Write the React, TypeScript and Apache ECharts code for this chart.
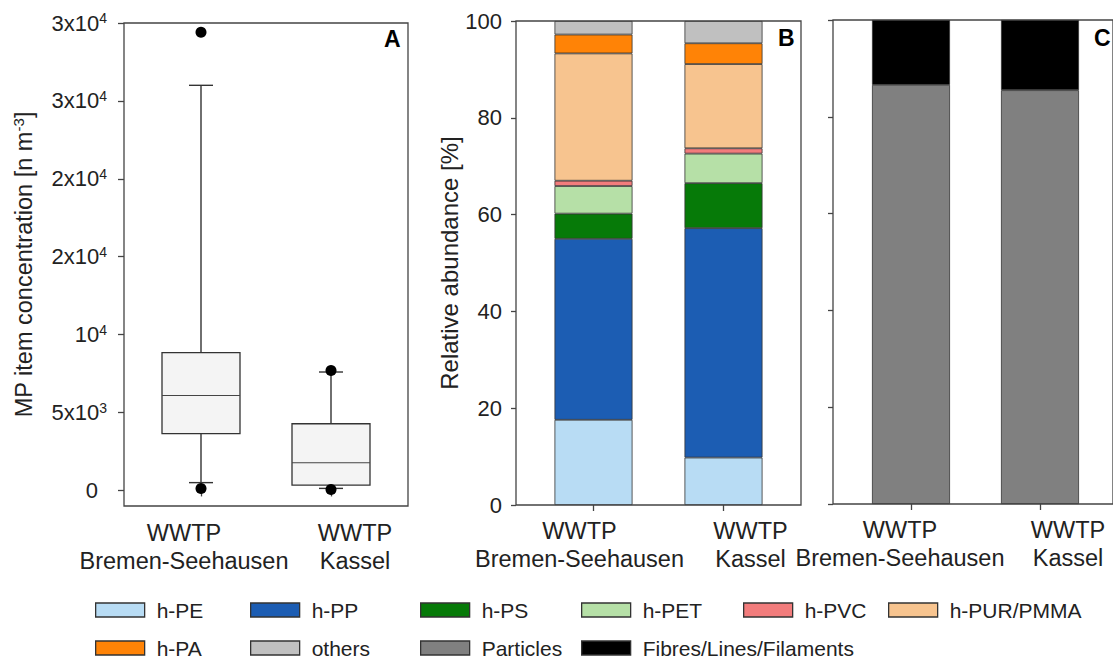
import React, { useEffect, useRef } from "react";
import * as echarts from "echarts";

// ---------- data ----------
const CATEGORIES = ["WWTP\nBremen-Seehausen", "WWTP\nKassel"];

// Panel A: box statistics [min whisker, Q1, median, Q3, max whisker]
const BOX_BREMEN = [500, 3650, 6090, 8850, 26000];
const BOX_KASSEL = [130, 340, 1780, 4280, 7600];
// outliers [category index, value]
const OUTLIERS = [
  [0, 29400],
  [0, 130],
  [1, 7700],
  [1, 60],
];
const A_TICKS = [0, 5000, 10000, 15000, 20000, 25000, 30000];
const A_TICK_LABELS = [
  "{b|0}{p| }",
  "{b|5x10}{s|3}",
  "{b|10}{s|4}",
  "{b|2x10}{s|4}",
  "{b|2x10}{s|4}",
  "{b|3x10}{s|4}",
  "{b|3x10}{s|4}",
];

// Panel B: relative abundance of polymers [%]
const POLYMERS = ["h-PE", "h-PP", "h-PS", "h-PET", "h-PVC", "h-PUR/PMMA", "h-PA", "others"];
const POLY_BREMEN = [17.6, 37.4, 5.2, 5.7, 1.1, 26.3, 3.9, 2.8];
const POLY_KASSEL = [9.8, 47.4, 9.3, 6.1, 1.1, 17.4, 4.3, 4.6];
const POLY_COLORS = ["#b8dcf4", "#1c5db3", "#067a08", "#b6e0a7", "#f27c7c", "#f7c48f", "#ff8306", "#c0c0c0"];

// Panel C: shapes [%]
const SHAPES = ["Particles", "Fibres/Lines/Filaments"];
const SHAPE_BREMEN = [86.6, 13.4];
const SHAPE_KASSEL = [85.5, 14.5];
const SHAPE_COLORS = ["#808080", "#000000"];

const B_TICKS_INTERVAL = 20;

// ---------- styling ----------
const FONT = "Liberation Sans";
const TXT = "#222";
const LINE = "#444";

function catData(shiftL: number, shiftR: number) {
  return [
    { value: CATEGORIES[0], textStyle: { padding: [0, shiftL, 0, 0] } },
    { value: CATEGORIES[1], textStyle: { padding: [0, 0, 0, shiftR] } },
  ];
}

const xLabel = {
  color: TXT,
  fontFamily: FONT,
  fontSize: 23.5,
  lineHeight: 28,
  margin: 12,
  interval: 0,
  hideOverlap: false,
};

const xTick = { show: true, alignWithLabel: true, length: 6, lineStyle: { color: LINE, width: 1.3 } };
const yTick = { show: true, length: 5, lineStyle: { color: LINE, width: 1.3 } };

const frame = { show: true, borderColor: LINE, borderWidth: 1.3, backgroundColor: "transparent" };

export default function App() {
  const ref = useRef<HTMLDivElement>(null);

  useEffect(() => {
    if (!ref.current) return;
    const chart = echarts.init(ref.current, undefined, { renderer: "svg" });

    const polySeries = POLYMERS.map((name, i) => ({
      name,
      type: "bar",
      stack: "poly",
      xAxisIndex: 1,
      yAxisIndex: 1,
      barWidth: 78,
      data: [POLY_BREMEN[i], POLY_KASSEL[i]],
      itemStyle: { color: POLY_COLORS[i], borderColor: "#333", borderWidth: 0.8 },
    }));

    const shapeSeries = SHAPES.map((name, i) => ({
      name,
      type: "bar",
      stack: "shape",
      xAxisIndex: 2,
      yAxisIndex: 2,
      barWidth: 78,
      data: [SHAPE_BREMEN[i], SHAPE_KASSEL[i]],
      itemStyle: { color: SHAPE_COLORS[i], borderColor: "#333", borderWidth: 0.8 },
    }));

    const legendPos: [string, number, number][] = [
      ["h-PE", 95, 598],
      ["h-PP", 250, 598],
      ["h-PS", 420, 598],
      ["h-PET", 581, 598],
      ["h-PVC", 743, 598],
      ["h-PUR/PMMA", 888, 598],
      ["h-PA", 95, 636],
      ["others", 250, 636],
      ["Particles", 420, 636],
      ["Fibres/Lines/Filaments", 581, 636],
    ];

    const legends = legendPos.map(([name, left, top]) => ({
      data: [name],
      left,
      top,
      padding: 0,
      itemWidth: 49,
      itemHeight: 14,
      selectedMode: false,
      icon: "rect",
      itemStyle: { borderColor: "#333", borderWidth: 1.3 },
      textStyle: { color: TXT, fontFamily: FONT, fontSize: 21, lineHeight: 24, padding: [0, 0, 0, 7] },
    }));

    const option: any = {
      animation: false,
      backgroundColor: "#fff",
      textStyle: { fontFamily: FONT },
      grid: [
        { left: 136, right: 717, top: 23, bottom: 156 },
        { left: 124, right: 705, top: 23, bottom: 156, ...frame },
        { left: 528.5, right: 324.5, top: 21, bottom: 157 },
        { left: 516, right: 312, top: 21, bottom: 157, ...frame },
        { left: 846.5, right: 8.5, top: 20, bottom: 158 },
        { left: 833, right: -10, top: 20, bottom: 158, ...frame },
      ],
      xAxis: [
        {
          gridIndex: 0,
          type: "category",
          data: catData(34, 48),
          axisLine: { show: false },
          axisTick: xTick,
          axisLabel: { ...xLabel, margin: 13 },
        },
        {
          gridIndex: 2,
          type: "category",
          data: catData(28, 54),
          axisLine: { show: false },
          axisTick: xTick,
          axisLabel: xLabel,
        },
        {
          gridIndex: 4,
          type: "category",
          data: catData(22, 56),
          axisLine: { show: false },
          axisTick: xTick,
          axisLabel: xLabel,
        },
      ],
      yAxis: [
        {
          gridIndex: 0,
          type: "value",
          min: -1000,
          max: 30000,
          offset: 12,
          axisLine: { show: false },
          splitLine: { show: false },
          axisTick: { ...yTick, length: 6, customValues: A_TICKS },
          axisLabel: {
            customValues: A_TICKS,
            margin: 17,
            formatter: (v: number) => {
              const i = A_TICKS.indexOf(v);
              return i >= 0 ? A_TICK_LABELS[i] : "";
            },
            rich: {
              b: { fontSize: 22, color: TXT, fontFamily: FONT, lineHeight: 24 },
              s: { fontSize: 14, color: TXT, fontFamily: FONT, lineHeight: 14, verticalAlign: "top" },
              p: { width: 9, fontSize: 13 },
            },
          },
          name: "{b|MP item concentration [n m}{s|-3}{b|]}",
          nameLocation: "middle",
          nameGap: 88,
          nameTextStyle: {
            rich: {
              b: { fontSize: 23.5, color: TXT, fontFamily: FONT, lineHeight: 25 },
              s: { fontSize: 15, color: TXT, fontFamily: FONT, lineHeight: 15, verticalAlign: "top" },
            },
          },
        },
        {
          gridIndex: 2,
          type: "value",
          min: 0,
          max: 100,
          interval: B_TICKS_INTERVAL,
          offset: 12.5,
          axisLine: { show: false },
          splitLine: { show: false },
          axisTick: yTick,
          axisLabel: { color: TXT, fontFamily: FONT, fontSize: 22, margin: 14 },
          name: "Relative abundance [%]",
          nameLocation: "middle",
          nameGap: 53,
          nameTextStyle: { color: TXT, fontFamily: FONT, fontSize: 24 },
        },
        {
          gridIndex: 4,
          type: "value",
          min: 0,
          max: 100,
          interval: B_TICKS_INTERVAL,
          offset: 13.5,
          axisLine: { show: false },
          splitLine: { show: false },
          axisTick: yTick,
          axisLabel: { show: false },
        },
      ],
      legend: legends,
      series: [
        {
          type: "custom",
          xAxisIndex: 0,
          yAxisIndex: 0,
          data: [
            [0, ...BOX_BREMEN],
            [1, ...BOX_KASSEL],
          ],
          encode: { x: 0, y: [1, 2, 3, 4, 5] },
          renderItem: (params: any, api: any) => {
            const x = api.value(0);
            const pMin = api.coord([x, api.value(1)]);
            const pQ1 = api.coord([x, api.value(2)]);
            const pMed = api.coord([x, api.value(3)]);
            const pQ3 = api.coord([x, api.value(4)]);
            const pMax = api.coord([x, api.value(5)]);
            const cx = pMed[0];
            const hw = 39;
            const cw = 12;
            const ls = { stroke: "#333", lineWidth: 1.4 };
            return {
              type: "group",
              children: [
                { type: "line", shape: { x1: cx, y1: pQ3[1], x2: cx, y2: pMax[1] }, style: ls },
                { type: "line", shape: { x1: cx - cw, y1: pMax[1], x2: cx + cw, y2: pMax[1] }, style: ls },
                { type: "line", shape: { x1: cx, y1: pQ1[1], x2: cx, y2: pMin[1] }, style: ls },
                { type: "line", shape: { x1: cx - cw, y1: pMin[1], x2: cx + cw, y2: pMin[1] }, style: ls },
                {
                  type: "rect",
                  shape: { x: cx - hw, y: pQ3[1], width: hw * 2, height: pQ1[1] - pQ3[1] },
                  style: { fill: "#f4f4f4", stroke: "#333", lineWidth: 1.3 },
                },
                { type: "line", shape: { x1: cx - hw, y1: pMed[1], x2: cx + hw, y2: pMed[1] }, style: { stroke: "#444", lineWidth: 1.1 } },
              ],
            };
          },
        },
        {
          type: "scatter",
          xAxisIndex: 0,
          yAxisIndex: 0,
          data: OUTLIERS,
          symbolSize: 11,
          itemStyle: { color: "#000", opacity: 1 },
          z: 5,
        },
        ...polySeries,
        ...shapeSeries,
      ],
      graphic: [
        { type: "text", left: 384, top: 27, style: { text: "A", fontSize: 23, fontWeight: "bold", fontFamily: FONT, fill: "#000" } },
        { type: "text", left: 778, top: 26, style: { text: "B", fontSize: 23, fontWeight: "bold", fontFamily: FONT, fill: "#000" } },
        { type: "text", left: 1094, top: 26, style: { text: "C", fontSize: 23, fontWeight: "bold", fontFamily: FONT, fill: "#000" } },
      ],
    };

    chart.setOption(option);
    return () => chart.dispose();
  }, []);

  return (
    <div
      ref={ref}
      style={{ position: "absolute", left: 0, top: 0, width: 1113, height: 662, background: "#fff" }}
    />
  );
}
